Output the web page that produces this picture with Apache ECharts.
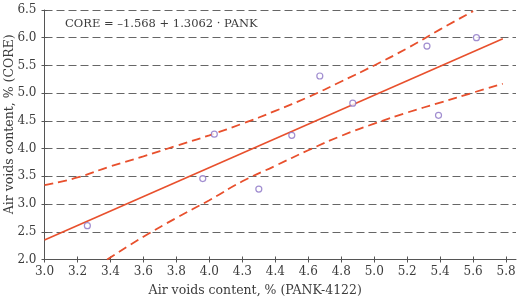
<!DOCTYPE html>
<html>
<head>
<meta charset="utf-8">
<script src="https://cdn.jsdelivr.net/npm/echarts@6/dist/echarts.min.js"></script>
<style>
  html, body { margin: 0; padding: 0; background: #fff; }
  #chart { width: 519px; height: 298px; }
</style>
</head>
<body>
<div id="chart"></div>
<script>
// measured samples (PANK vs CORE)
const pankX = [3.26, 3.96, 4.03, 4.30, 4.50, 4.67, 4.87, 5.32, 5.39, 5.62];
const coreY = [2.61, 3.46, 4.26, 3.27, 4.24, 5.31, 4.82, 5.85, 4.60, 6.00];

// fitted line ends
const fitX = [3.0, 5.78];
const fitY = [2.35, 5.98];

// confidence band
const upperX = [3.0, 3.2, 3.4, 3.6, 3.8, 4.0, 4.2, 4.4, 4.6, 4.8, 5.0, 5.2, 5.4, 5.6];
const upperY = [3.34, 3.48, 3.68, 3.86, 4.05, 4.24, 4.45, 4.68, 4.93, 5.21, 5.50, 5.81, 6.15, 6.48];
const lowerX = [3.38, 3.6, 3.8, 4.0, 4.2, 4.4, 4.6, 4.8, 5.0, 5.2, 5.4, 5.6, 5.78];
const lowerY = [2.0, 2.41, 2.75, 3.07, 3.41, 3.69, 3.97, 4.23, 4.45, 4.65, 4.83, 5.01, 5.17];

// x tick positions and their printed labels (the original prints 4.3 at 4.2)
const xTickValues = [3.0, 3.2, 3.4, 3.6, 3.8, 4.0, 4.2, 4.4, 4.6, 4.8, 5.0, 5.2, 5.4, 5.6, 5.8];
const xTickLabels = ["3.0", "3.2", "3.4", "3.6", "3.8", "4.0", "4.3", "4.4", "4.6", "4.8", "5.0", "5.2", "5.4", "5.6", "5.8"];

const zip = (xs, ys) => xs.map((x, i) => [x, ys[i]]);

const FONT = "DejaVu Serif";
const RED = "#e8502d";
const AXIS = "#555";
const TEXT = "#3c3c3c";

const chart = echarts.init(document.getElementById("chart"), null, { renderer: "canvas" });

const xLabel = (v) => {
  const i = xTickValues.findIndex((t) => Math.abs(t - v) < 1e-6);
  return i >= 0 ? xTickLabels[i] : "";
};

const option = {
  animation: false,
  grid: { left: 44.5, right: 3, top: 10, bottom: 38.5, outerBoundsMode: "none" },
  graphic: [
    {
      type: "text",
      left: 65,
      top: 18,
      style: {
        text: "CORE = \u20131.568 + 1.3062 \u00b7 PANK",
        font: "11.5px '" + FONT + "'",
        fill: TEXT,
      },
    },
  ],
  xAxis: [
    {
      type: "value",
      min: 3.0,
      max: 5.86,
      name: "Air voids content, % (PANK-4122)",
      nameLocation: "middle",
      nameGap: 25,
      nameMoveOverlap: false,
      nameTextStyle: { fontFamily: FONT, fontSize: 12.5, color: TEXT, padding: [0, 50, 0, 0] },
      axisLine: { show: true, lineStyle: { color: AXIS, width: 1 } },
      axisTick: { show: true, length: 3, customValues: xTickValues, lineStyle: { color: AXIS } },
      axisLabel: {
        customValues: xTickValues,
        formatter: xLabel,
        fontFamily: FONT,
        fontSize: 12,
        color: TEXT,
        margin: 6,
      },
      splitLine: { show: false },
    },
    {
      type: "value",
      min: 3.0,
      max: 5.86,
      position: "bottom",
      axisLine: { show: false },
      axisTick: { show: true, inside: true, length: 3, customValues: xTickValues, lineStyle: { color: AXIS } },
      axisLabel: { show: false },
      splitLine: { show: false },
    },
  ],
  yAxis: [
    {
      type: "value",
      min: 2.0,
      max: 6.5,
      interval: 0.5,
      name: "Air voids content, % (CORE)",
      nameLocation: "middle",
      nameGap: 28,
      nameMoveOverlap: false,
      nameTextStyle: { fontFamily: FONT, fontSize: 12.5, color: TEXT, padding: [0, 0, 0, 21] },
      axisLine: { show: true, lineStyle: { color: AXIS, width: 1 } },
      axisTick: { show: true, length: 3, lineStyle: { color: AXIS } },
      axisLabel: {
        formatter: (v) => v.toFixed(1),
        fontFamily: FONT,
        fontSize: 12,
        color: TEXT,
        margin: 8,
      },
      splitLine: {
        show: true,
        lineStyle: { color: "#666", width: 1, type: [8, 4] },
      },
    },
    {
      type: "value",
      min: 2.0,
      max: 6.5,
      interval: 0.5,
      position: "left",
      axisLine: { show: false },
      axisTick: { show: true, inside: true, length: 3, lineStyle: { color: AXIS } },
      axisLabel: { show: false },
      splitLine: { show: false },
    },
  ],
  series: [
    {
      name: "upper",
      type: "line",
      data: zip(upperX, upperY),
      smooth: true,
      showSymbol: false,
      lineStyle: { color: RED, width: 1.8, type: [9, 5] },
      z: 3,
    },
    {
      name: "lower",
      type: "line",
      data: zip(lowerX, lowerY),
      smooth: true,
      showSymbol: false,
      lineStyle: { color: RED, width: 1.8, type: [9, 5] },
      z: 3,
    },
    {
      name: "fit",
      type: "line",
      data: zip(fitX, fitY),
      showSymbol: false,
      lineStyle: { color: RED, width: 1.6 },
      z: 4,
    },
    {
      name: "points",
      type: "scatter",
      data: zip(pankX, coreY),
      symbol: "circle",
      symbolSize: 6,
      itemStyle: { color: "#fff", borderColor: "#8a72c4", borderWidth: 1.2 },
      z: 5,
    },
  ],
};

chart.setOption(option);
</script>
</body>
</html>
